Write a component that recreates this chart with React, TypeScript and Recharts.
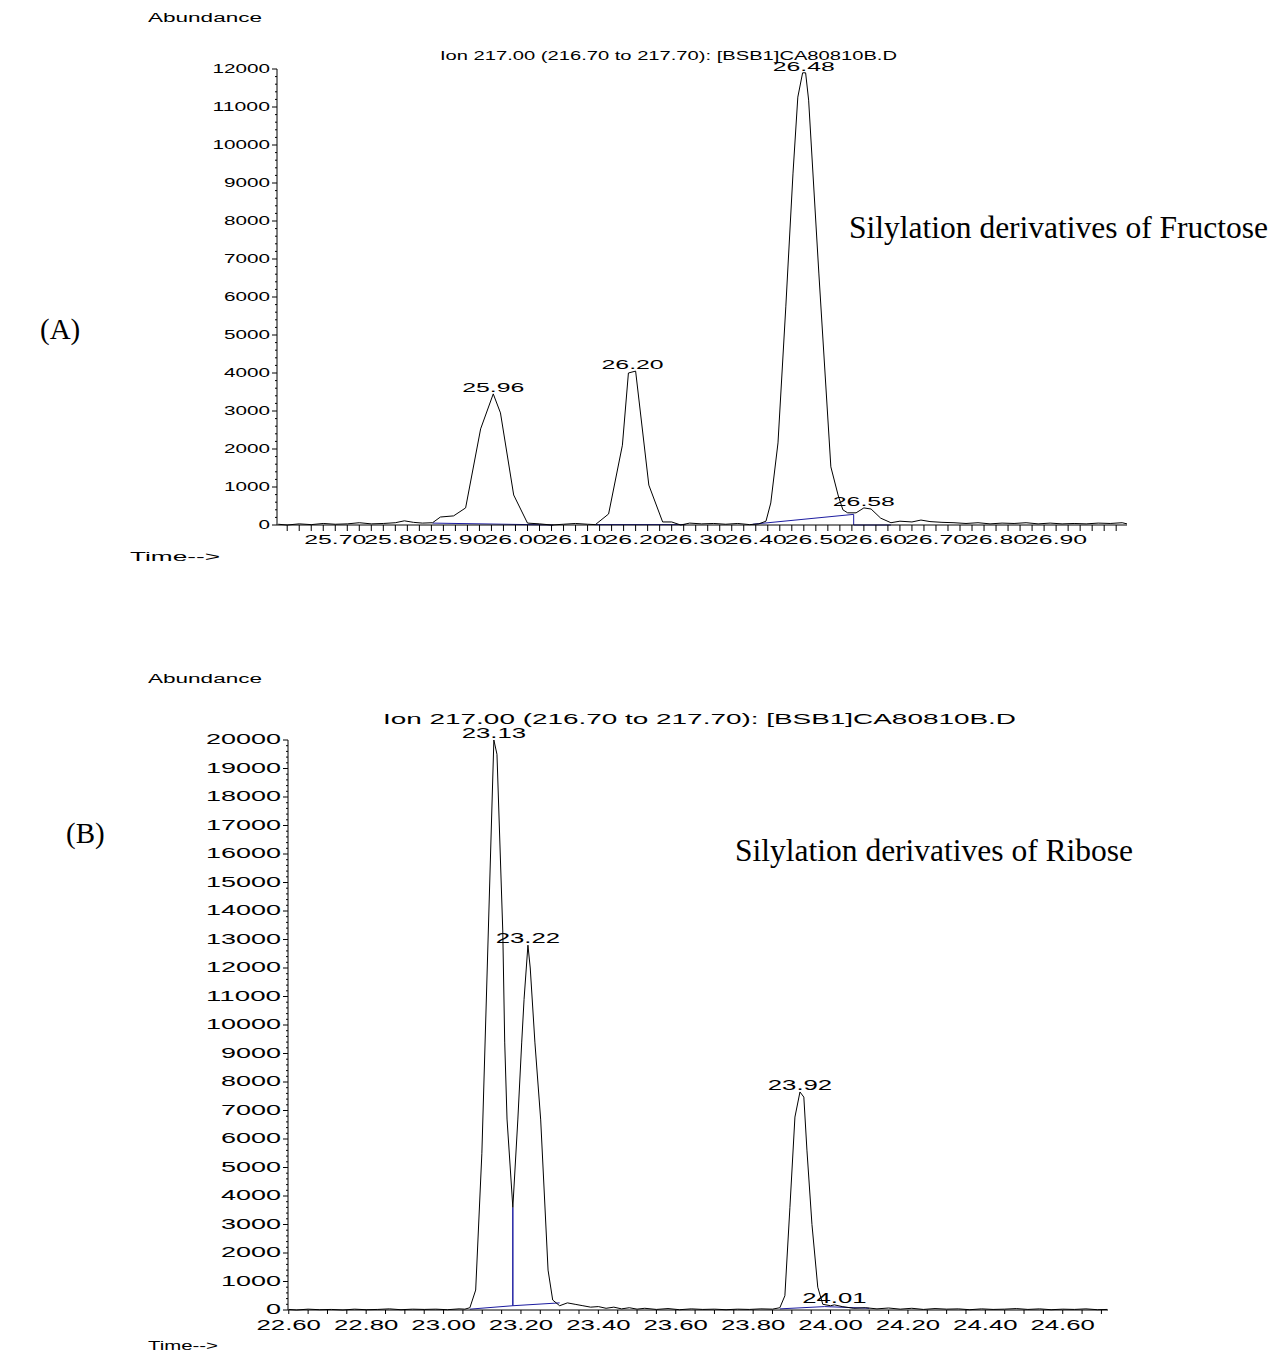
import React from 'react'
import { ComposedChart, Line, Scatter, XAxis, YAxis } from 'recharts'

// ---------- (A) fructose, ion 217 ----------
const fructoseXLabels = [25.7, 25.8, 25.9, 26.0, 26.1, 26.2, 26.3, 26.4, 26.5, 26.6, 26.7, 26.8, 26.9]
const fructoseYLabels = [0, 1000, 2000, 3000, 4000, 5000, 6000, 7000, 8000, 9000, 10000, 11000, 12000]

const fructoseSignal = [
  { t: 25.605, v: 20 }, { t: 25.62, v: 0 }, { t: 25.64, v: 30 }, { t: 25.66, v: 10 },
  { t: 25.68, v: 40 }, { t: 25.7, v: 20 }, { t: 25.72, v: 30 }, { t: 25.74, v: 60 },
  { t: 25.76, v: 30 }, { t: 25.78, v: 40 }, { t: 25.8, v: 60 }, { t: 25.815, v: 110 },
  { t: 25.83, v: 70 }, { t: 25.845, v: 50 }, { t: 25.862, v: 60 }, { t: 25.875, v: 210 },
  { t: 25.897, v: 240 }, { t: 25.917, v: 450 }, { t: 25.942, v: 2530 }, { t: 25.963, v: 3450 },
  { t: 25.975, v: 2950 }, { t: 25.997, v: 790 }, { t: 26.02, v: 50 }, { t: 26.04, v: 30 },
  { t: 26.06, v: 0 }, { t: 26.08, v: 20 }, { t: 26.1, v: 40 }, { t: 26.12, v: 20 },
  { t: 26.133, v: 10 }, { t: 26.155, v: 290 }, { t: 26.178, v: 2100 }, { t: 26.188, v: 4000 },
  { t: 26.2, v: 4050 }, { t: 26.222, v: 1050 }, { t: 26.245, v: 80 }, { t: 26.26, v: 80 },
  { t: 26.275, v: 0 }, { t: 26.29, v: 50 }, { t: 26.31, v: 30 }, { t: 26.33, v: 40 },
  { t: 26.35, v: 20 }, { t: 26.37, v: 40 }, { t: 26.39, v: 10 }, { t: 26.405, v: 30 },
  { t: 26.417, v: 100 }, { t: 26.425, v: 580 }, { t: 26.437, v: 2160 }, { t: 26.45, v: 5740 },
  { t: 26.462, v: 9260 }, { t: 26.47, v: 11260 }, { t: 26.478, v: 11900 }, { t: 26.483, v: 11900 },
  { t: 26.488, v: 11180 }, { t: 26.505, v: 6630 }, { t: 26.525, v: 1530 }, { t: 26.537, v: 790 },
  { t: 26.545, v: 400 }, { t: 26.553, v: 320 }, { t: 26.567, v: 320 }, { t: 26.58, v: 450 },
  { t: 26.592, v: 420 }, { t: 26.608, v: 180 }, { t: 26.625, v: 60 }, { t: 26.64, v: 100 },
  { t: 26.66, v: 80 }, { t: 26.675, v: 130 }, { t: 26.69, v: 90 }, { t: 26.71, v: 70 },
  { t: 26.73, v: 60 }, { t: 26.75, v: 40 }, { t: 26.77, v: 60 }, { t: 26.79, v: 30 },
  { t: 26.81, v: 50 }, { t: 26.83, v: 40 }, { t: 26.85, v: 60 }, { t: 26.87, v: 30 },
  { t: 26.89, v: 50 }, { t: 26.91, v: 30 }, { t: 26.93, v: 40 }, { t: 26.95, v: 30 },
  { t: 26.97, v: 50 }, { t: 26.99, v: 40 }, { t: 27.01, v: 60 }, { t: 27.018, v: 30 },
]

// integration baselines (blue)
const fructoseBaselines = [
  [{ t: 25.862, v: 50 }, { t: 26.063, v: 0 }],
  [{ t: 26.133, v: 10 }, { t: 26.283, v: 10 }],
  [{ t: 26.395, v: 20 }, { t: 26.563, v: 280 }, { t: 26.563, v: 0 }, { t: 26.625, v: 0 }],
]

const fructosePeaks = [
  { t: 25.963, v: 3450, name: '25.96' },
  { t: 26.195, v: 4050, name: '26.20' },
  { t: 26.48, v: 11900, name: '26.48' },
  { t: 26.58, v: 450, name: '26.58' },
]

// ---------- (B) ribose, ion 217 ----------
const riboseXLabels = [22.6, 22.8, 23.0, 23.2, 23.4, 23.6, 23.8, 24.0, 24.2, 24.4, 24.6]
const riboseYLabels = [0, 1000, 2000, 3000, 4000, 5000, 6000, 7000, 8000, 9000, 10000,
  11000, 12000, 13000, 14000, 15000, 16000, 17000, 18000, 19000, 20000]

const riboseSignal = [
  { t: 22.6, v: 20 }, { t: 22.62, v: 0 }, { t: 22.65, v: 30 }, { t: 22.68, v: 10 },
  { t: 22.71, v: 20 }, { t: 22.74, v: 0 }, { t: 22.77, v: 30 }, { t: 22.8, v: 10 },
  { t: 22.83, v: 20 }, { t: 22.86, v: 40 }, { t: 22.89, v: 10 }, { t: 22.92, v: 30 },
  { t: 22.95, v: 20 }, { t: 22.98, v: 30 }, { t: 23.01, v: 10 }, { t: 23.04, v: 40 },
  { t: 23.055, v: 30 }, { t: 23.068, v: 80 }, { t: 23.083, v: 700 }, { t: 23.099, v: 5500 },
  { t: 23.13, v: 20000 }, { t: 23.138, v: 19500 }, { t: 23.153, v: 13300 }, { t: 23.158, v: 9400 },
  { t: 23.164, v: 6700 }, { t: 23.179, v: 3600 }, { t: 23.192, v: 6700 }, { t: 23.202, v: 9400 },
  { t: 23.208, v: 10900 }, { t: 23.218, v: 12800 }, { t: 23.224, v: 12000 }, { t: 23.236, v: 9400 },
  { t: 23.251, v: 6670 }, { t: 23.27, v: 1400 }, { t: 23.282, v: 350 }, { t: 23.3, v: 150 },
  { t: 23.32, v: 250 }, { t: 23.34, v: 200 }, { t: 23.36, v: 150 }, { t: 23.38, v: 100 },
  { t: 23.4, v: 120 }, { t: 23.42, v: 60 }, { t: 23.44, v: 100 }, { t: 23.46, v: 40 },
  { t: 23.48, v: 80 }, { t: 23.5, v: 30 }, { t: 23.52, v: 60 }, { t: 23.55, v: 20 },
  { t: 23.58, v: 50 }, { t: 23.61, v: 10 }, { t: 23.64, v: 40 }, { t: 23.67, v: 20 },
  { t: 23.7, v: 30 }, { t: 23.73, v: 10 }, { t: 23.76, v: 30 }, { t: 23.79, v: 20 },
  { t: 23.82, v: 40 }, { t: 23.85, v: 30 }, { t: 23.869, v: 80 }, { t: 23.882, v: 500 },
  { t: 23.895, v: 3600 }, { t: 23.908, v: 6770 }, { t: 23.921, v: 7650 }, { t: 23.931, v: 7470 },
  { t: 23.939, v: 5610 }, { t: 23.952, v: 3000 }, { t: 23.967, v: 800 }, { t: 23.98, v: 200 },
  { t: 24.0, v: 150 }, { t: 24.01, v: 180 }, { t: 24.03, v: 120 }, { t: 24.06, v: 60 },
  { t: 24.09, v: 80 }, { t: 24.12, v: 40 }, { t: 24.15, v: 70 }, { t: 24.18, v: 30 },
  { t: 24.21, v: 60 }, { t: 24.24, v: 20 }, { t: 24.27, v: 50 }, { t: 24.3, v: 30 },
  { t: 24.33, v: 40 }, { t: 24.36, v: 10 }, { t: 24.39, v: 40 }, { t: 24.42, v: 20 },
  { t: 24.45, v: 30 }, { t: 24.48, v: 50 }, { t: 24.51, v: 20 }, { t: 24.54, v: 40 },
  { t: 24.57, v: 10 }, { t: 24.6, v: 30 }, { t: 24.63, v: 20 }, { t: 24.66, v: 40 },
  { t: 24.69, v: 10 }, { t: 24.715, v: 20 },
]

const riboseBaselines = [
  [{ t: 23.068, v: 30 }, { t: 23.179, v: 150 }, { t: 23.179, v: 3600 }, { t: 23.179, v: 150 }, { t: 23.3, v: 250 }],
  [{ t: 23.869, v: 40 }, { t: 23.985, v: 120 }, { t: 24.1, v: 60 }],
]

const ribosePeaks = [
  { t: 23.13, v: 20000, name: '23.13' },
  { t: 23.218, v: 12800, name: '23.22' },
  { t: 23.921, v: 7650, name: '23.92' },
  { t: 24.01, v: 180, name: '24.01' },
]

const SANS = '"Liberation Sans", Arial, Helvetica, sans-serif'
const SERIF = '"Liberation Serif", "Times New Roman", serif'
const BLUE = '#1c1ca0'

const stepTicks = (from: number, to: number, step: number) => {
  const out: number[] = []
  const n = Math.round((to - from) / step)
  for (let i = 0; i <= n; i++) out.push(Math.round((from + i * step) * 10000) / 10000)
  return out
}

// width of a stretched label: digits are wide, the period narrow
const textLen = (s: string, dw: number) => {
  let w = 0
  for (const c of s) w += c === '.' ? dw * 0.6 : dw
  return w
}

const isIn = (arr: number[], v: number) => arr.some((a) => Math.abs(a - v) < 1e-6)

const makeXTick = (labels: number[], dw: number, fs: number, tickLen: number, dy: number) =>
  (props: any) => {
    const { x, y, payload } = props
    const v = payload.value
    const s = v.toFixed(2)
    const w = textLen(s, dw)
    return (
      <g>
        <line x1={x} x2={x} y1={y} y2={y + tickLen} stroke="#000" strokeWidth={1} />
        {isIn(labels, v) && (
          <text x={x - w / 2} y={y + dy} fontSize={fs} fontFamily={SANS} fill="#000"
            textLength={w} lengthAdjust="spacingAndGlyphs">{s}</text>
        )}
      </g>
    )
  }

const makeYTick = (labels: number[], dw: number, fs: number, gap: number) =>
  (props: any) => {
    const { x, y, payload } = props
    const v = payload.value
    const major = isIn(labels, v)
    const s = String(v)
    const w = textLen(s, dw)
    return (
      <g>
        <line x1={x - (major ? 5 : 2)} x2={x} y1={y} y2={y} stroke="#000" strokeWidth={1} />
        {major && (
          <text x={x - gap - w} y={y + fs * 0.32} fontSize={fs} fontFamily={SANS} fill="#000"
            textLength={w} lengthAdjust="spacingAndGlyphs">{s}</text>
        )}
      </g>
    )
  }

const makePeakLabel = (dw: number, fs: number) => (props: any) => {
  const { cx, cy, payload } = props
  const w = textLen(payload.name, dw)
  return (
    <text x={cx - w / 2} y={cy - 2} fontSize={fs} fontFamily={SANS} fill="#000"
      textLength={w} lengthAdjust="spacingAndGlyphs">{payload.name}</text>
  )
}

// plot: left/right/top/bottom are the page pixels of the plotting area
const Chromatogram = (p: {
  top: number; height: number; plot: { left: number; right: number; top: number; bottom: number };
  xDomain: number[]; yDomain: number[];
  xTicks: number[]; yTicks: number[]; xLabels: number[]; yLabels: number[];
  signal: any[]; baselines: any[][]; peaks: any[];
  dw: number; fs: number; ydw: number; yfs: number; xTickLen: number; xdy: number
}) => {
  const axisW = 100
  const axisH = 40
  const margin = {
    left: p.plot.left - axisW,
    right: 1280 - p.plot.right,
    top: p.plot.top - p.top,
    bottom: p.top + p.height - p.plot.bottom - axisH,
  }
  return (
    <div style={{ position: 'absolute', left: 0, top: p.top }}>
      <ComposedChart width={1280} height={p.height} margin={margin}>
        <XAxis type="number" dataKey="t" domain={p.xDomain} ticks={p.xTicks}
          interval={0} height={axisH} tickSize={0} tickMargin={0} tickLine={false}
          axisLine={{ stroke: '#000', strokeWidth: 1 }}
          tick={makeXTick(p.xLabels, p.dw, p.fs, p.xTickLen, p.xdy)} />
        <YAxis type="number" dataKey="v" domain={p.yDomain} ticks={p.yTicks}
          interval={0} width={axisW} tickSize={0} tickMargin={0} tickLine={false}
          axisLine={{ stroke: '#000', strokeWidth: 1 }}
          tick={makeYTick(p.yLabels, p.ydw, p.yfs, 7)} />
        {p.baselines.map((b, i) => (
          <Line key={'b' + i} data={b} dataKey="v" type="linear" stroke={BLUE} strokeWidth={1}
            dot={false} isAnimationActive={false} />
        ))}
        <Line data={p.signal} dataKey="v" type="linear" stroke="#000" strokeWidth={1}
          dot={false} isAnimationActive={false} />
        <Scatter data={p.peaks} dataKey="v" shape={makePeakLabel(p.dw, p.fs)} isAnimationActive={false} />
      </ComposedChart>
    </div>
  )
}

const Wide = (p: { x: number; y: number; w: number; fs: number; children: string }) => (
  <text x={p.x} y={p.y} fontSize={p.fs} fontFamily={SANS} fill="#000" textLength={p.w}
    lengthAdjust="spacingAndGlyphs">{p.children}</text>
)

export default function App() {
  return (
    <div style={{ position: 'absolute', left: 0, top: 0, width: 1280, height: 1355, background: '#fff' }}>
      <svg width={1280} height={1355} style={{ position: 'absolute', left: 0, top: 0 }}>
        <Wide x={148} y={22} w={114} fs={12}>Abundance</Wide>
        <Wide x={440} y={60} w={457} fs={12}>Ion 217.00 (216.70 to 217.70): [BSB1]CA80810B.D</Wide>
        <Wide x={130} y={561} w={90} fs={12}>Time--&gt;</Wide>
        <text x={40} y={339} fontSize={29} fontFamily={SERIF}>(A)</text>
        <text x={849} y={238} fontSize={31.5} fontFamily={SERIF}>Silylation derivatives of Fructose</text>

        <Wide x={148} y={683} w={114} fs={12}>Abundance</Wide>
        <Wide x={383} y={724} w={633} fs={14}>Ion 217.00 (216.70 to 217.70): [BSB1]CA80810B.D</Wide>
        <Wide x={148} y={1350} w={70} fs={12}>Time--&gt;</Wide>
        <text x={66} y={843} fontSize={29} fontFamily={SERIF}>(B)</text>
        <text x={735} y={861} fontSize={31.5} fontFamily={SERIF}>Silylation derivatives of Ribose</text>
      </svg>

      <Chromatogram top={0} height={600} plot={{ left: 277, right: 1127, top: 69, bottom: 525 }}
        xDomain={[25.603, 27.018]} yDomain={[0, 12000]}
        xTicks={stepTicks(25.62, 27.0, 0.02)} yTicks={stepTicks(0, 12000, 200)}
        xLabels={fructoseXLabels} yLabels={fructoseYLabels}
        signal={fructoseSignal} baselines={fructoseBaselines} peaks={fructosePeaks}
        dw={13.5} fs={12.5} ydw={11.5} yfs={12} xTickLen={6} xdy={19} />

      <Chromatogram top={660} height={690} plot={{ left: 288, right: 1108, top: 740, bottom: 1310 }}
        xDomain={[22.598, 24.717]} yDomain={[0, 20000]}
        xTicks={stepTicks(22.6, 24.7, 0.05)} yTicks={stepTicks(0, 20000, 200)}
        xLabels={riboseXLabels} yLabels={riboseYLabels}
        signal={riboseSignal} baselines={riboseBaselines} peaks={ribosePeaks}
        dw={14} fs={14} ydw={15} yfs={14} xTickLen={4} xdy={20} />
    </div>
  )
}
